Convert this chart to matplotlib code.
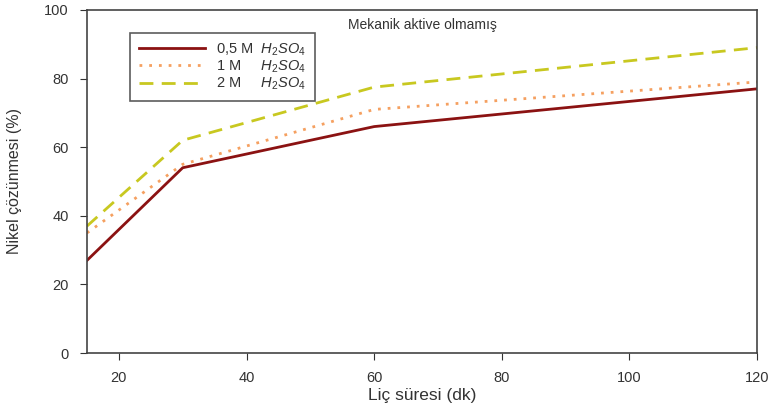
import matplotlib
matplotlib.use("Agg")
import matplotlib.pyplot as plt

plt.rcParams['font.family'] = ['Liberation Sans', 'DejaVu Sans']
plt.rcParams['mathtext.fontset'] = 'custom'
plt.rcParams['mathtext.it'] = 'Liberation Sans:italic'
plt.rcParams['mathtext.rm'] = 'Liberation Sans'

time_min = [15, 30, 60, 120]
conc_05 = [27, 54, 66, 77]
conc_1 = [35, 55, 71, 79]
conc_2 = [37, 62, 77.5, 89]
labels = [r'0,5 M  $H_2SO_4$', r'1 M     $H_2SO_4$', r'2 M     $H_2SO_4$']

fig = plt.figure(figsize=(7.73, 4.12), dpi=100)
ax = fig.add_axes([0.1125, 0.143, 0.867, 0.833])

ax.plot(time_min, conc_05, color='#8b1212', lw=2, label=labels[0])
ax.plot(time_min, conc_1, color='#f5a060', lw=2, ls=(0, (1, 2.5)), label=labels[1])
ax.plot(time_min, conc_2, color='#c8c820', lw=2, ls=(0, (5, 3)), label=labels[2])

ax.set_xlim(15, 120)
ax.set_ylim(0, 100)
ax.set_xticks([20, 40, 60, 80, 100, 120])
ax.set_yticks([0, 20, 40, 60, 80, 100])
ax.tick_params(direction='out', length=5, labelsize=10.5, labelcolor='#333333', color='#333333')
ax.tick_params(axis='x', pad=8)
ax.tick_params(axis='y', pad=8)
for s in ax.spines.values():
    s.set_color('#444444')
    s.set_linewidth(1.2)

ax.set_xlabel('Liç süresi (dk)', fontsize=12.5, color='#333333', labelpad=2)
ax.set_ylabel('Nikel çözünmesi (%)', fontsize=11.5, color='#333333', labelpad=16)
ax.text(0.5, 0.975, 'Mekanik aktive olmamış', transform=ax.transAxes,
        ha='center', va='top', fontsize=10, color='#333333')

leg = ax.legend(loc='upper left', bbox_to_anchor=(0.054, 0.955), fontsize=10.5,
                frameon=True, fancybox=False, edgecolor='#333333',
                handlelength=4.5, labelspacing=0.05, borderpad=0.6)
leg.get_frame().set_linewidth(1.2)
for t in leg.get_texts():
    t.set_color('#333333')

fig.savefig('out.png', dpi=100)
